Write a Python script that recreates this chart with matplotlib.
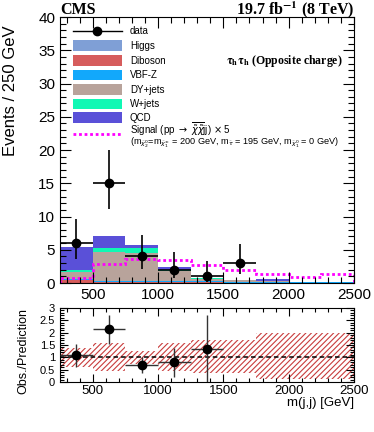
import numpy as np
import matplotlib
matplotlib.use("Agg")
import matplotlib.pyplot as plt
from matplotlib.patches import Rectangle
from matplotlib.lines import Line2D
from matplotlib.ticker import MultipleLocator

plt.rcParams['font.family'] = ['Liberation Sans', 'DejaVu Sans']
plt.rcParams['hatch.linewidth'] = 0.8

# ---- data ----
edges = [250, 500, 750, 1000, 1250, 1500, 1750, 2000, 2250, 2500]
higgs   = [0.03, 0.05, 0.05, 0.05, 0.05, 0.05, 0.05, 0.03, 0.03]
diboson = [0.40, 0.05, 0.05, 0.03, 0.03, 0.02, 0.02, 0.01, 0.01]
vbfz    = [0.12, 0.25, 0.25, 0.20, 0.15, 0.12, 0.10, 0.08, 0.06]
dyjets  = [1.10, 4.30, 4.20, 1.60, 0.40, 0.20, 0.10, 0.05, 0.05]
wjets   = [0.30, 0.60, 0.65, 0.15, 0.12, 0.05, 0.03, 0.02, 0.01]
qcd     = [3.50, 1.75, 0.45, 0.42, 0.00, 0.00, 0.30, 0.00, 0.00]
signal  = [0.80, 2.80, 3.65, 3.40, 2.65, 1.90, 1.35, 0.85, 1.40]

data_x = [375, 625, 875, 1125, 1375, 1625]
data_y = [6, 15, 4, 2, 1, 3]
data_err_lo = [2.38, 3.82, 1.91, 1.29, 0.83, 1.63]
data_err_hi = [3.58, 4.96, 3.16, 2.64, 2.30, 2.92]

ratio_err_lo = [0.48, 0.59, 0.34, 0.61, 1.37]
ratio_err_hi = [0.46, 0.56, 0.31, 0.57, 1.39]
band_lo = [0.60, 0.46, 0.73, 0.46, 0.35, 0.35, 0.11, 0.11, 0.11]
band_hi = [1.37, 1.57, 1.27, 1.57, 1.70, 1.70, 2.00, 2.00, 2.00]

labels = ['Higgs', 'Diboson', 'VBF-Z', 'DY+jets', 'W+jets', 'QCD']
colors = ['#7f9fd6', '#d65c5c', '#12a8fb', '#b8a39b', '#10f8b4', '#5a50d8']
stack = [higgs, diboson, vbfz, dyjets, wjets, qcd]

edges_a = np.array(edges)
left = edges_a[:-1]
width = np.diff(edges_a)

fig = plt.figure(figsize=(3.74, 4.32), dpi=100)
ax = fig.add_axes([0.1604, 0.3449, 0.7861, 0.6157])
rx = fig.add_axes([0.1604, 0.1157, 0.7861, 0.1713])

bottom = np.zeros(len(left))
for vals, c in zip(stack, colors):
    v = np.array(vals)
    ax.bar(left, v, width=width, bottom=bottom, align='edge', color=c, linewidth=0)
    bottom += v
total = bottom.copy()

ax.stairs(signal, edges, color='#ff00ff', linestyle=(0, (1, 1)), linewidth=2.0)

ax.errorbar(data_x, data_y, xerr=125, yerr=[data_err_lo, data_err_hi], fmt='o',
            color='black', markersize=6, elinewidth=1.2, capsize=0, zorder=5)

ax.set_xlim(250, 2500)
ax.set_ylim(0, 40)

def style(a, xmaj, xmin, ymaj, ymin, lmaj=8, lmin=4):
    a.xaxis.set_major_locator(MultipleLocator(xmaj))
    a.xaxis.set_minor_locator(MultipleLocator(xmin))
    a.yaxis.set_major_locator(MultipleLocator(ymaj))
    a.yaxis.set_minor_locator(MultipleLocator(ymin))
    a.tick_params(which='both', direction='in', top=True, right=True, width=0.8)
    a.tick_params(which='major', length=lmaj)
    a.tick_params(which='minor', length=lmin)
    for s in a.spines.values():
        s.set_linewidth(0.8)

style(ax, 500, 100, 5, 1)
ax.tick_params(axis='both', which='major', labelsize=11)
ax.set_ylabel('Events / 250 GeV', fontsize=12, ha='right')
ax.yaxis.set_label_coords(-0.143, 0.97)

# legend (manual, ROOT style)
def ax_y(py):
    return (283 - py) / 266.0
bx0 = (73 - 60) / 294.0
bw = (122 - 73) / 294.0
tx = (130 - 60) / 294.0
bh = 10.7 / 266.0
fs_leg = 7
ax.add_line(Line2D([bx0, bx0 + bw], [ax_y(31)] * 2, transform=ax.transAxes, color='black', lw=1.0))
ax.plot([bx0 + bw / 2], [ax_y(31)], 'o', color='black', markersize=6, transform=ax.transAxes)
ax.text(tx, ax_y(31), 'data', transform=ax.transAxes, fontsize=fs_leg, va='center')
rows = [45.5, 60.5, 75, 89.5, 104, 117.5]
for py, lab, c in zip(rows, labels, colors):
    ax.add_patch(Rectangle((bx0, ax_y(py) - bh / 2), bw, bh, transform=ax.transAxes,
                           facecolor=c, edgecolor='none'))
    ax.text(tx, ax_y(py), lab, transform=ax.transAxes, fontsize=fs_leg, va='center')
ax.add_line(Line2D([bx0, bx0 + bw], [ax_y(134)] * 2, transform=ax.transAxes, color='#ff00ff',
                   lw=2.0, linestyle=(0, (1, 1))))
ax.text(tx, ax_y(133.5), r'Signal (pp $\rightarrow$ $\overline{\tilde{\chi}\tilde{\chi}}$jj) $\times$ 5',
        transform=ax.transAxes, fontsize=fs_leg, va='baseline')
ax.text(tx, ax_y(144.5),
        r'(m$_{\tilde{\chi}_2^0}$=m$_{\tilde{\chi}_1^{\pm}}$ = 200 GeV, m$_{\tilde{\tau}}$ = 195 GeV, m$_{\tilde{\chi}_1^0}$ = 0 GeV)',
        transform=ax.transAxes, fontsize=6.6, va='baseline')

ax.text((226 - 60) / 294.0, ax_y(61), r'$\mathbf{\tau_{h}\tau_{h}}$ (Opposite charge)',
        transform=ax.transAxes, fontsize=8.5, fontweight='bold', family='Liberation Serif',
        math_fontfamily='stix', va='center')

fig.text(0.1604, 1 - 14.5 / 432, 'CMS', fontsize=11.5, fontweight='bold', family='Liberation Serif',
         va='baseline', ha='left')
fig.text(0.9465, 1 - 14.5 / 432, r'19.7 fb$^{\mathbf{-1}}$ (8 TeV)', fontsize=11.5, fontweight='bold',
         family='Liberation Serif', math_fontfamily='stix', va='baseline', ha='right')

# ratio panel
rx.fill_between(edges, band_lo + [band_lo[-1]], band_hi + [band_hi[-1]], step='post',
                facecolor='none', edgecolor='#c83c3c', hatch='//////', linewidth=0)
rx.axhline(1.0, color='black', linestyle=(0, (3, 2)), linewidth=1.1)
ratio = np.array(data_y[:5]) / total[:5]
rx.errorbar(data_x[:5], ratio, xerr=125, yerr=[ratio_err_lo, ratio_err_hi], fmt='o',
            color='black', ecolor='#333333', markersize=6, elinewidth=1.0, capsize=0, zorder=5)
rx.set_xlim(250, 2500)
rx.set_ylim(0, 3)
style(rx, 500, 100, 0.5, 0.1, lmaj=6, lmin=3)
rx.yaxis.set_major_formatter(matplotlib.ticker.FuncFormatter(lambda v, p: ('%g' % v)))
rx.tick_params(axis='y', which='major', labelsize=8)
rx.tick_params(axis='x', which='major', labelsize=9.5, pad=2)
rx.set_ylabel('Obs./Prediction', fontsize=9, ha='right')
rx.yaxis.set_label_coords(-0.105, 1.0)
rx.set_xlabel('m(j,j) [GeV]', fontsize=9.5, loc='right', labelpad=0)

fig.savefig('out.png', dpi=100)
